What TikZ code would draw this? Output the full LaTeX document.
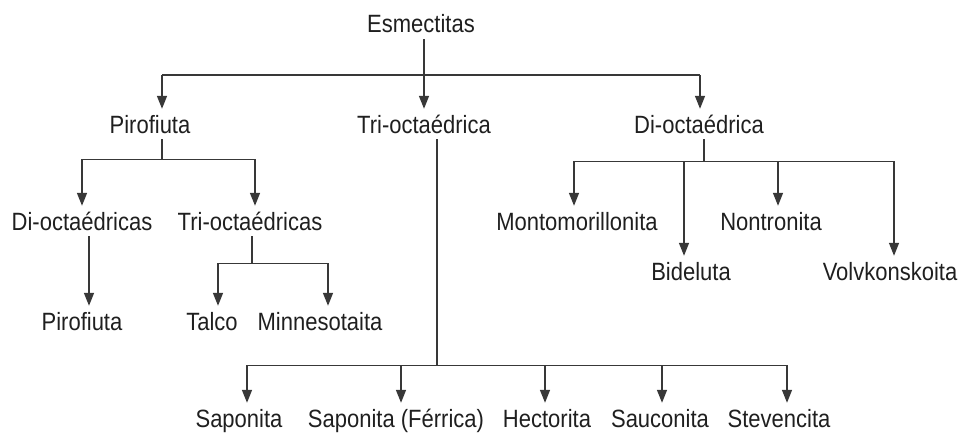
\documentclass[tikz,border=0pt]{standalone}
\usepackage{fontspec}
\setmainfont[FakeStretch=0.88]{Liberation Sans}
\usetikzlibrary{arrows.meta}

\begin{document}
\begin{tikzpicture}[x=1pt,y=-1pt,
  lbl/.style={font=\fontsize{25}{30}\selectfont,anchor=base,text=black!88,
    text height=18pt,text depth=0pt,inner xsep=0pt,inner ysep=6pt},
  link/.style={line width=1.4pt,black!78},
  arr/.style={link,-{Triangle[length=13pt,width=10pt]}}]
  \useasboundingbox (0,0) rectangle (963,433);

  \node[lbl] (esm)   at (421,33)  {Esmectitas};
  \node[lbl] (piro)  at (150,133) {Pirofiuta};
  \node[lbl] (trio)  at (424,133) {Tri-octaédrica};
  \node[lbl] (dio)   at (699,133) {Di-octaédrica};
  \node[lbl] (dis)   at (82,230)  {Di-octaédricas};
  \node[lbl] (tris)  at (250,230) {Tri-octaédricas};
  \node[lbl] (mont)  at (577,230) {Montomorillonita};
  \node[lbl] (nont)  at (771,230) {Nontronita};
  \node[lbl] (bide)  at (691,280) {Bideluta};
  \node[lbl] (volv)  at (890,280) {Volvkonskoita};
  \node[lbl] (piro2) at (82,330)  {Pirofiuta};
  \node[lbl] (talco) at (212,330) {Talco};
  \node[lbl] (minn)  at (320,330) {Minnesotaita};
  \node[lbl] (sap)   at (239,427) {Saponita};
  \node[lbl] (sapf)  at (396,427) {Saponita (Férrica)};
  \node[lbl] (hect)  at (547,427) {Hectorita};
  \node[lbl] (sauc)  at (660,427) {Sauconita};
  \node[lbl] (stev)  at (779,427) {Stevencita};

  % where the lines leave and enter the labels
  \coordinate (esm-out)  at ([xshift=3pt]esm.south);
  \coordinate (piro-out) at ([xshift=12pt]piro.south);
  \coordinate (trio-out) at ([xshift=13pt]trio.south);
  \coordinate (dio-out)  at ([xshift=5pt]dio.south);
  \coordinate (dis-out)  at ([xshift=7pt]dis.south);
  \coordinate (tris-out) at ([xshift=2pt]tris.south);

  \coordinate (piro-in)  at ([xshift=12pt]piro.north);
  \coordinate (dio-in)   at ([xshift=1pt]dio.north);
  \coordinate (tris-in)  at ([xshift=5pt]tris.north);
  \coordinate (mont-in)  at ([xshift=-3pt]mont.north);
  \coordinate (bide-in)  at ([xshift=-7pt]bide.north);
  \coordinate (nont-in)  at ([xshift=7pt]nont.north);
  \coordinate (volv-in)  at ([xshift=4pt]volv.north);
  \coordinate (piro2-in) at ([xshift=7pt]piro2.north);
  \coordinate (talco-in) at ([xshift=6pt]talco.north);
  \coordinate (minn-in)  at ([xshift=8pt]minn.north);
  \coordinate (sap-in)   at ([xshift=8pt]sap.north);
  \coordinate (sapf-in)  at ([xshift=5pt]sapf.north);
  \coordinate (hect-in)  at ([xshift=-2pt]hect.north);
  \coordinate (sauc-in)  at ([xshift=2pt]sauc.north);
  \coordinate (stev-in)  at ([xshift=8pt]stev.north);

  \coordinate (esm-bus)  at ([yshift=-36pt]esm-out);
  \coordinate (piro-bus) at ([yshift=-20pt]piro-out);
  \coordinate (dio-bus)  at ([yshift=-22pt]dio-out);
  \coordinate (tris-bus) at ([yshift=-27pt]tris-out);
  \coordinate (trio-bus) at ([yshift=-226pt]trio-out);

  % Esmectitas
  \draw[link] (piro-in |- esm-bus) -- (dio-in |- esm-bus);
  \draw[arr] (esm-out) -- (trio.north -| esm-out);
  \draw[arr] (piro-in |- esm-bus) -- (piro-in);
  \draw[arr] (dio-in |- esm-bus) -- (dio-in);

  % Pirofiuta
  \draw[link] (piro-out) -- (piro-bus);
  \draw[link] (dis.north |- piro-bus) -- (tris-in |- piro-bus);
  \draw[arr] (dis.north |- piro-bus) -- (dis.north);
  \draw[arr] (tris-in |- piro-bus) -- (tris-in);
  \draw[arr] (dis-out) -- (piro2-in);
  \draw[link] (tris-out) -- (tris-bus);
  \draw[link] (talco-in |- tris-bus) -- (minn-in |- tris-bus);
  \draw[arr] (talco-in |- tris-bus) -- (talco-in);
  \draw[arr] (minn-in |- tris-bus) -- (minn-in);

  % Di-octaedrica
  \draw[link] (dio-out) -- (dio-bus);
  \draw[link] (mont-in |- dio-bus) -- (volv-in |- dio-bus);
  \draw[arr] (mont-in |- dio-bus) -- (mont-in);
  \draw[arr] (bide-in |- dio-bus) -- (bide-in);
  \draw[arr] (nont-in |- dio-bus) -- (nont-in);
  \draw[arr] (volv-in |- dio-bus) -- (volv-in);

  % Tri-octaedrica
  \draw[link] (trio-out) -- (trio-bus);
  \draw[link] (sap-in |- trio-bus) -- (stev-in |- trio-bus);
  \draw[arr] (sap-in |- trio-bus) -- (sap-in);
  \draw[arr] (sapf-in |- trio-bus) -- (sapf-in);
  \draw[arr] (hect-in |- trio-bus) -- (hect-in);
  \draw[arr] (sauc-in |- trio-bus) -- (sauc-in);
  \draw[arr] (stev-in |- trio-bus) -- (stev-in);
\end{tikzpicture}
\end{document}
